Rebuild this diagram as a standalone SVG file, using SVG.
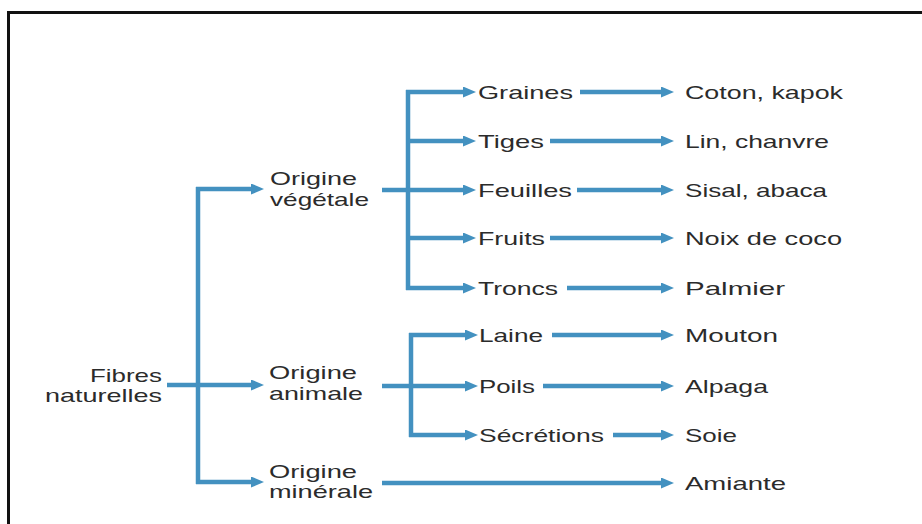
<svg xmlns="http://www.w3.org/2000/svg" width="922" height="524" viewBox="0 0 922 524">
<style>
.t{font-family:"Liberation Sans",Arial,sans-serif;font-size:18.5px;fill:#2b2b2b}
.c{stroke:#4391c0;stroke-width:4.5;fill:none}
.a{marker-end:url(#ah)}
</style>
<defs>
<marker id="ah" markerUnits="userSpaceOnUse" markerWidth="13" markerHeight="11" refX="4" refY="5.5" orient="auto">
<path d="M0,0 L13,5.5 L0,11 z" fill="#4391c0"/>
</marker>
</defs>
<rect width="922" height="524" fill="#fff"/>
<path d="M8.5,524 V12.5 H922" stroke="#111" stroke-width="3" fill="none"/>
<g id="connectors">
<path class="c" d="M167,385 H198"/>
<path class="c" d="M198,187 V484"/>
<path class="c a" d="M196,189 H255"/>
<path class="c a" d="M198,385 H255"/>
<path class="c a" d="M196,482 H255"/>
<path class="c" d="M382,190 H408"/>
<path class="c" d="M408,90 V290"/>
<path class="c a" d="M406,92 H467"/>
<path class="c a" d="M408,141 H467"/>
<path class="c a" d="M408,190 H467"/>
<path class="c a" d="M408,238 H467"/>
<path class="c a" d="M406,288 H467"/>
<path class="c a" d="M580,92 H665"/>
<path class="c a" d="M550,141 H665"/>
<path class="c a" d="M577,190 H665"/>
<path class="c a" d="M550,238 H665"/>
<path class="c a" d="M567,288 H665"/>
<path class="c" d="M382,386 H411"/>
<path class="c" d="M411,333 V437"/>
<path class="c a" d="M409,335 H469"/>
<path class="c a" d="M411,386 H469"/>
<path class="c a" d="M409,435 H469"/>
<path class="c a" d="M552,335 H665"/>
<path class="c a" d="M543,386 H665"/>
<path class="c a" d="M613,435 H665"/>
<path class="c a" d="M382,483 H665"/>
</g>
<g id="fibres"><text class="t" x="90" y="382" textLength="72" lengthAdjust="spacingAndGlyphs">Fibres</text><text class="t" x="45" y="402" textLength="117" lengthAdjust="spacingAndGlyphs">naturelles</text></g>
<g id="vegetale"><text class="t" x="270" y="185" textLength="87" lengthAdjust="spacingAndGlyphs">Origine</text><text class="t" x="270" y="206" textLength="99" lengthAdjust="spacingAndGlyphs">végétale</text></g>
<g id="animale"><text class="t" x="269" y="379" textLength="88" lengthAdjust="spacingAndGlyphs">Origine</text><text class="t" x="269" y="400" textLength="94" lengthAdjust="spacingAndGlyphs">animale</text></g>
<g id="minerale"><text class="t" x="269" y="478" textLength="88" lengthAdjust="spacingAndGlyphs">Origine</text><text class="t" x="269" y="498" textLength="104" lengthAdjust="spacingAndGlyphs">minérale</text></g>
<g id="graines"><text class="t" x="478" y="99" textLength="95" lengthAdjust="spacingAndGlyphs">Graines</text></g>
<g id="tiges"><text class="t" x="478" y="148" textLength="66" lengthAdjust="spacingAndGlyphs">Tiges</text></g>
<g id="feuilles"><text class="t" x="478" y="197" textLength="94" lengthAdjust="spacingAndGlyphs">Feuilles</text></g>
<g id="fruits"><text class="t" x="478" y="245" textLength="67" lengthAdjust="spacingAndGlyphs">Fruits</text></g>
<g id="troncs"><text class="t" x="478" y="295" textLength="80" lengthAdjust="spacingAndGlyphs">Troncs</text></g>
<g id="laine"><text class="t" x="479" y="342" textLength="64" lengthAdjust="spacingAndGlyphs">Laine</text></g>
<g id="poils"><text class="t" x="479" y="393" textLength="56" lengthAdjust="spacingAndGlyphs">Poils</text></g>
<g id="secretions"><text class="t" x="479" y="442" textLength="125" lengthAdjust="spacingAndGlyphs">Sécrétions</text></g>
<g id="coton"><text class="t" x="685" y="99" textLength="158" lengthAdjust="spacingAndGlyphs">Coton, kapok</text></g>
<g id="lin"><text class="t" x="685" y="148" textLength="144" lengthAdjust="spacingAndGlyphs">Lin, chanvre</text></g>
<g id="sisal"><text class="t" x="685" y="197" textLength="142" lengthAdjust="spacingAndGlyphs">Sisal, abaca</text></g>
<g id="noix"><text class="t" x="685" y="245" textLength="157" lengthAdjust="spacingAndGlyphs">Noix de coco</text></g>
<g id="palmier"><text class="t" x="685" y="295" textLength="100" lengthAdjust="spacingAndGlyphs">Palmier</text></g>
<g id="mouton"><text class="t" x="685" y="342" textLength="93" lengthAdjust="spacingAndGlyphs">Mouton</text></g>
<g id="alpaga"><text class="t" x="685" y="393" textLength="83" lengthAdjust="spacingAndGlyphs">Alpaga</text></g>
<g id="soie"><text class="t" x="685" y="442" textLength="52" lengthAdjust="spacingAndGlyphs">Soie</text></g>
<g id="amiante"><text class="t" x="685" y="490" textLength="101" lengthAdjust="spacingAndGlyphs">Amiante</text></g>
</svg>
